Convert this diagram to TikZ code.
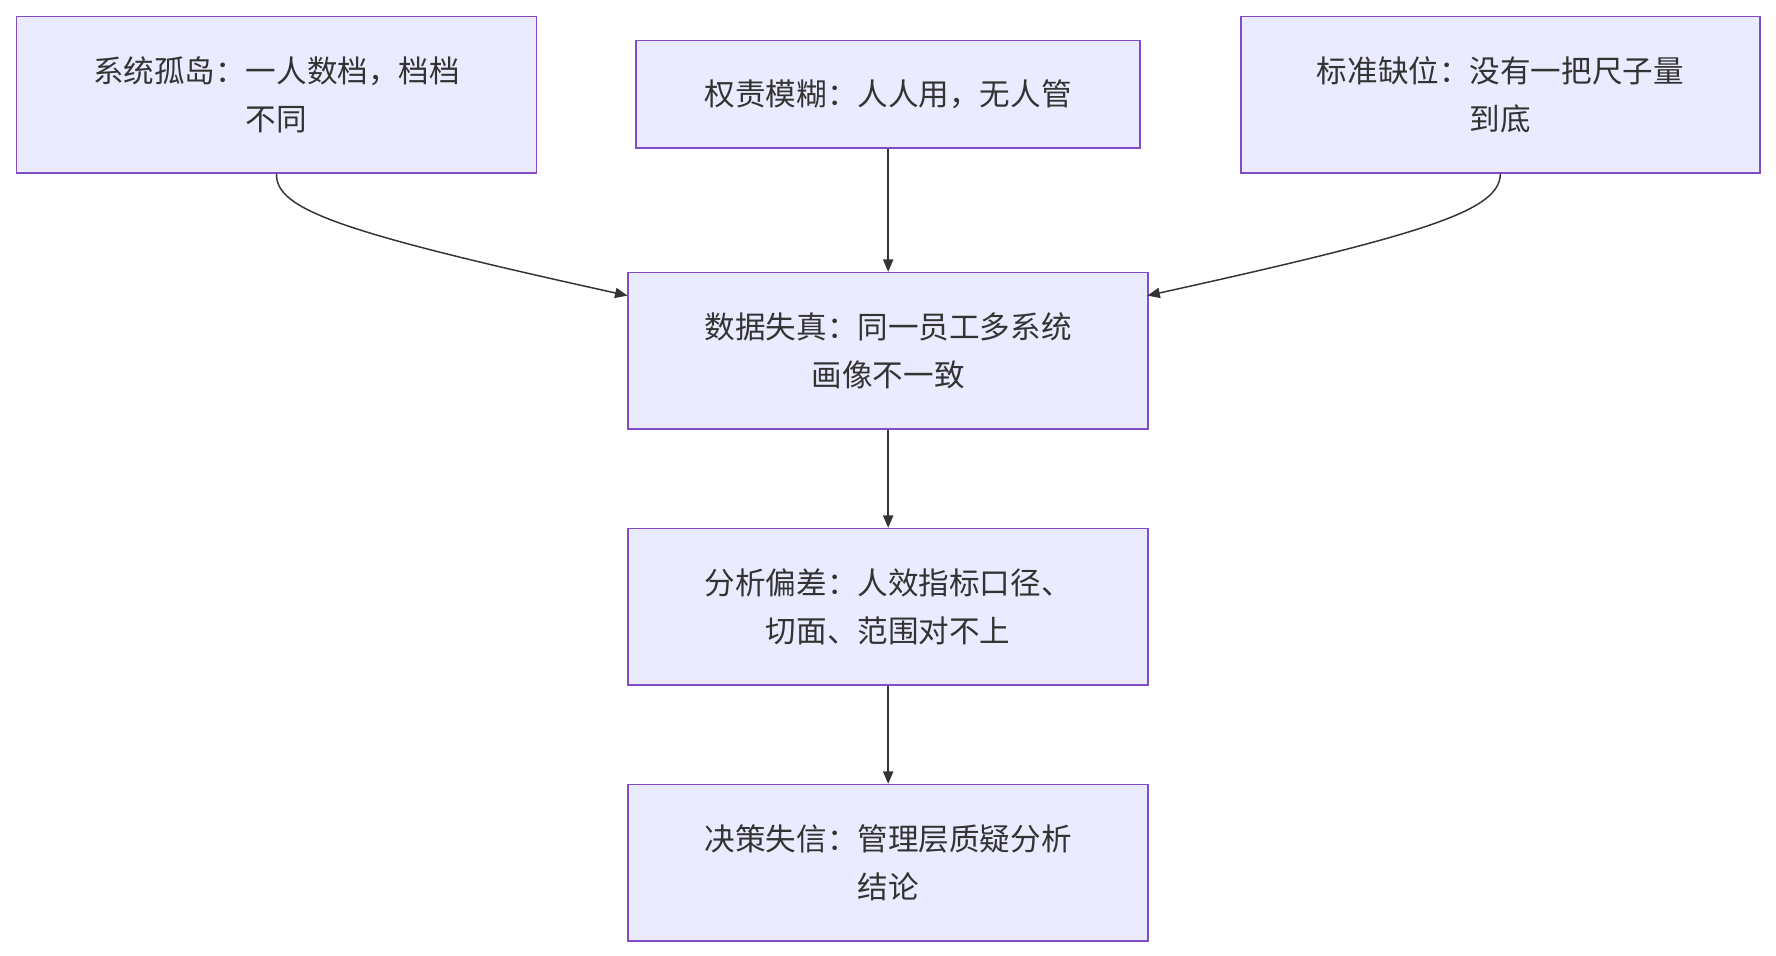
\documentclass[tikz,border=0pt]{standalone}
\usepackage{fontspec}
\setmainfont{Noto Sans CJK SC}
\usetikzlibrary{arrows.meta}
\begin{document}
\begin{tikzpicture}[x=1pt,y=-1pt,
  box/.style={draw=violet!60!blue!70,line width=1.3pt,fill=blue!8,anchor=north west,inner sep=0pt,align=center,text=black!80,font=\fontsize{27}{42}\selectfont},
  arr/.style={draw=black!80,line width=1.3pt,-{Triangle[length=11pt,width=9pt]}}]
\useasboundingbox (0,0) rectangle (1568,844);
\node[box,minimum width=459pt,minimum height=138pt] (a) at (14,14) {系统孤岛：一人数档，档档\\不同};
\node[box,minimum width=445pt,minimum height=95pt] (b) at (561,35) {权责模糊：人人用，无人管};
\node[box,minimum width=458pt,minimum height=138pt] (c) at (1095,14) {标准缺位：没有一把尺子量\\到底};
\node[box,minimum width=459pt,minimum height=138pt] (d) at (554,240) {数据失真：同一员工多系统\\画像不一致};
\node[box,minimum width=459pt,minimum height=138pt] (e) at (554,466) {分析偏差：人效指标口径、\\切面、范围对不上};
\node[box,minimum width=459pt,minimum height=138pt] (f) at (554,692) {决策失信：管理层质疑分析\\结论};
\coordinate (dl) at (554,261);
\coordinate (dr) at (1013,261);
\draw[arr] (a.south) .. controls (243,185) and (300,205) .. (dl);
\draw[arr] (c.south) .. controls (1324,185) and (1267,205) .. (dr);
\draw[arr] (b) -- (d);
\draw[arr] (d) -- (e);
\draw[arr] (e) -- (f);
\end{tikzpicture}
\end{document}
